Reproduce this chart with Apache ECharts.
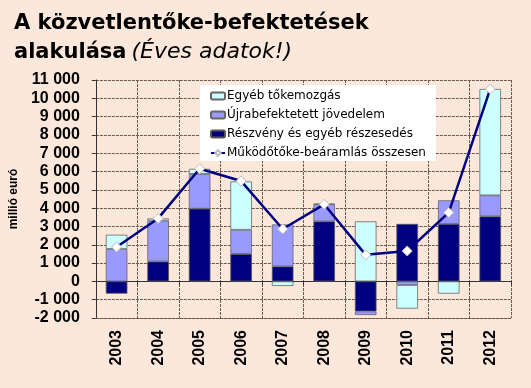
<!DOCTYPE html>
<html><head><meta charset="utf-8">
<script src="https://cdn.jsdelivr.net/npm/echarts@6/dist/echarts.min.js"></script>
<style>html,body{margin:0;padding:0;background:#FCE8DA;}#c{width:531px;height:388px;}</style>
</head><body><div id="c"></div>
<script>
const years = ['2003','2004','2005','2006','2007','2008','2009','2010','2011','2012'];
const equity = [-670, 1090, 3970, 1500, 820, 3280, -1640, 3140, 3140, 3550];
const reinvested = [1770, 2230, 1900, 1320, 2290, 930, -200, -200, 1290, 1150];
const otherCapital = [780, 120, 280, 2640, -250, 30, 3280, -1290, -670, 5810];
const totalInflow = [1880, 3440, 6150, 5480, 2860, 4210, 1450, 1660, 3760, 10510];
const yTicks = {min: -2000, max: 11000, interval: 1000};
const names = ['Egyéb tőkemozgás','Újrabefektetett jövedelem','Részvény és egyéb részesedés','Működőtőke-beáramlás összesen'];

function fmt(v){const s=String(Math.abs(v)).replace(/\B(?=(\d{3})+(?!\d))/g,' ');return (v<0?'-':'')+s;}
const grid = '#6b5a50';
const chart = echarts.init(document.getElementById('c'), null, {renderer:'canvas'});
chart.setOption({
  backgroundColor:'#FCE8DA',
  animation:false,
  title:{
    left:9, top:4,
    text:'{b|A közvetlentőke-befektetések}\n{b|alakulása} {i|(Éves adatok!)}',
    textStyle:{rich:{
      b:{fontFamily:'DejaVu Sans',fontWeight:'bold',fontSize:21,color:'#000',lineHeight:29},
      i:{fontFamily:'DejaVu Sans',fontStyle:'italic',fontWeight:'normal',fontSize:22,color:'#000',lineHeight:29}
    }}
  },
  legend:{
    orient:'vertical', left:200, top:85,
    backgroundColor:'#fff', padding:[4,10,1,10], itemGap:5,
    itemWidth:14, itemHeight:7,
    textStyle:{fontFamily:'DejaVu Sans',fontSize:12,color:'#000',padding:[0,0,0,-3],lineHeight:14},
    data:names
  },
  grid:{left:90,right:20,top:80,bottom:70},
  xAxis:[{
    type:'category', data:years, position:'bottom',
    axisLine:{onZero:false,show:true,lineStyle:{color:grid,type:[3,1]}},
    axisTick:{show:false},
    axisLabel:{rotate:90,margin:12,fontFamily:'Liberation Sans, Arial',fontWeight:'bold',fontSize:16,color:'#000'},
    splitLine:{show:true,lineStyle:{color:grid,type:[3,1],width:1}}
  },{
    type:'category', data:years, position:'top',
    axisLine:{onZero:true,show:true,lineStyle:{color:'#333',width:1}},
    axisTick:{show:true,inside:true,length:4,lineStyle:{color:'#333'}},
    axisLabel:{show:false}, splitLine:{show:false}
  }],
  yAxis:{
    type:'value', min:yTicks.min, max:yTicks.max, interval:yTicks.interval,
    name:'millió euró', nameLocation:'middle', nameGap:62,
    nameTextStyle:{fontFamily:'Liberation Sans, Arial',fontWeight:'bold',fontSize:12,color:'#000'},
    axisLine:{show:true,lineStyle:{color:'#333'}},
    axisTick:{show:true,length:4,lineStyle:{color:'#333'}},
    axisLabel:{formatter:fmt,margin:16,fontFamily:'Liberation Sans, Arial',fontWeight:'bold',fontSize:16,color:'#000'},
    splitLine:{show:true,lineStyle:{color:grid,type:[3,1],width:1}}
  },
  series:[
    {name:names[2],type:'bar',stack:'s',data:equity,barWidth:'52%',
     itemStyle:{color:'#000080',borderColor:'#555',borderWidth:0.8}},
    {name:names[1],type:'bar',stack:'s',data:reinvested,
     itemStyle:{color:'#9999FF',borderColor:'#666',borderWidth:0.8}},
    {name:names[0],type:'bar',stack:'s',data:otherCapital,
     itemStyle:{color:'#CCFFFF',borderColor:'#666',borderWidth:0.8}},
    {name:names[3],type:'line',data:totalInflow,symbol:'diamond',symbolSize:10,
     lineStyle:{color:'#000080',width:2.5},
     itemStyle:{color:'#fff',borderColor:'#bbb',borderWidth:1}, z:5}
  ]
});
</script></body></html>
